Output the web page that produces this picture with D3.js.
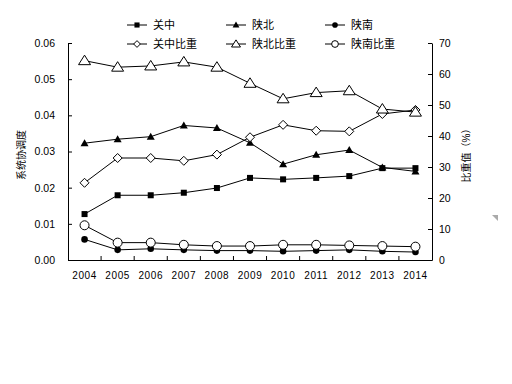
<!DOCTYPE html>
<html><head><meta charset="utf-8">
<script src="https://cdn.jsdelivr.net/npm/d3@7"></script>
<style>body{margin:0;background:#fff}svg{display:block}text{font-family:Arial,"Liberation Sans","Noto Sans CJK SC",sans-serif;fill:#000}</style>
</head><body><svg id="c" width="512" height="384"></svg>
<script>
const years = ["2004","2005","2006","2007","2008","2009","2010","2011","2012","2013","2014"];
const guanzhong = [0.0127,0.0179,0.0179,0.0186,0.0199,0.0227,0.0223,0.0227,0.0232,0.0254,0.0254];
const shanbei = [0.0323,0.0334,0.0341,0.0372,0.0365,0.0324,0.0265,0.0291,0.0304,0.0256,0.0245];
const shannan = [0.0057,0.0028,0.0031,0.0028,0.0026,0.0026,0.0024,0.0026,0.0028,0.0024,0.0022];
const guanzhongPct = [24.9,32.9,32.9,32.0,34.0,39.6,43.6,41.7,41.5,47.1,48.4];
const shanbeiPct = [64.3,62.2,62.6,63.9,62.2,57.0,52.0,54.0,54.6,48.7,47.7];
const shannanPct = [11.2,5.6,5.6,4.9,4.5,4.5,4.9,4.9,4.7,4.5,4.3];
const leftTicks = [0,0.01,0.02,0.03,0.04,0.05,0.06];
const rightTicks = [0,10,20,30,40,50,60,70];
const leftTitle = "系统协调度";
const rightTitle = "比重值（%）";

const svg = d3.select("#c");
const x0 = 68, x1 = 432, yT = 43, yB = 260;
const x = d3.scaleBand().domain(years).range([x0, x1]);
const yL = d3.scaleLinear().domain([0, 0.06]).range([yB, yT]);
const yR = d3.scaleLinear().domain([0, 70]).range([yB, yT]);
const cx = d => x(d) + x.bandwidth() / 2;

// axes
const gx = svg.append("g").attr("transform", `translate(0,${yB})`)
  .call(d3.axisBottom(x).tickSize(0).tickPadding(12));
gx.select(".domain").attr("stroke", "#000");
gx.selectAll("text").attr("font-size", 10).attr("letter-spacing", 0.6);
years.slice(1).forEach(yr => {
  svg.append("line").attr("x1", x(yr)).attr("x2", x(yr)).attr("y1", yB).attr("y2", yB - 4).attr("stroke", "#000");
});
const gl = svg.append("g").attr("transform", `translate(${x0},0)`)
  .call(d3.axisLeft(yL).tickValues(leftTicks).tickFormat(d3.format(".2f")).tickSizeInner(-4).tickSizeOuter(0).tickPadding(13));
gl.select(".domain").attr("stroke", "#000");
gl.selectAll("text").attr("font-size", 10.5);
const gr = svg.append("g").attr("transform", `translate(${x1},0)`)
  .call(d3.axisRight(yR).tickValues(rightTicks).tickSizeInner(-4).tickSizeOuter(0).tickPadding(7));
gr.select(".domain").attr("stroke", "#000");
gr.selectAll("text").attr("font-size", 10.5).attr("x", 7);
svg.selectAll(".tick line").attr("stroke", "#000");

svg.append("text").attr("transform", "translate(25,155) rotate(-90)").attr("text-anchor", "middle")
  .attr("font-size", 10).text(leftTitle);
svg.append("text").attr("transform", "translate(470,153) rotate(-90)").attr("text-anchor", "middle")
  .attr("font-size", 10).text(rightTitle);

// markers
function marker(g, type, px, py, s) {
  s = s || 1;
  if (type === "square") g.append("rect").attr("x", px - 3*s).attr("y", py - 3*s).attr("width", 6*s).attr("height", 6*s).attr("fill", "#000");
  else if (type === "tri") g.append("path").attr("d", `M${px},${py-4*s}L${px+4*s},${py+3*s}L${px-4*s},${py+3*s}Z`).attr("fill", "#000");
  else if (type === "circle") g.append("circle").attr("cx", px).attr("cy", py).attr("r", 3.3*s).attr("fill", "#000");
  else if (type === "diamond") g.append("path").attr("d", `M${px},${py-4.5*s}L${px+4.5*s},${py}L${px},${py+4.5*s}L${px-4.5*s},${py}Z`).attr("fill", "#fff").attr("stroke", "#000");
  else if (type === "otri") g.append("path").attr("d", `M${px},${py-5.5*s}L${px+6*s},${py+4*s}L${px-6*s},${py+4*s}Z`).attr("fill", "#fff").attr("stroke", "#000");
  else if (type === "ocircle") g.append("circle").attr("cx", px).attr("cy", py).attr("r", 4.5*s).attr("fill", "#fff").attr("stroke", "#000");
}

const series = [
  {name:"关中", vals:guanzhong, y:yL, m:"square"},
  {name:"陕北", vals:shanbei, y:yL, m:"tri"},
  {name:"陕南", vals:shannan, y:yL, m:"circle"},
  {name:"关中比重", vals:guanzhongPct, y:yR, m:"diamond"},
  {name:"陕北比重", vals:shanbeiPct, y:yR, m:"otri"},
  {name:"陕南比重", vals:shannanPct, y:yR, m:"ocircle"}
];
const line = (ys) => d3.line().x((d, i) => cx(years[i])).y(d => ys(d));
series.forEach(s => {
  svg.append("path").datum(s.vals).attr("d", line(s.y)).attr("fill", "none").attr("stroke", "#000").attr("stroke-width", 1);
});
series.forEach(s => {
  const g = svg.append("g");
  s.vals.forEach((v, i) => marker(g, s.m, cx(years[i]), s.y(v)));
});

// legend
const colX = [127, 226, 325];
const rowY = [25, 44];
series.forEach((s, i) => {
  const lx = colX[i % 3], ly = rowY[Math.floor(i / 3)];
  svg.append("line").attr("x1", lx).attr("x2", lx + 20).attr("y1", ly).attr("y2", ly).attr("stroke", "#000");
  const g = svg.append("g");
  marker(g, s.m, lx + 10, ly, s.m.startsWith("o") || s.m === "diamond" ? 0.75 : 0.85);
  svg.append("text").attr("x", lx + 26).attr("y", ly + 4).attr("font-size", 11).text(s.name);
});

// small grey corner mark
svg.append("path").attr("d", "M492,215L498,215L498,221Z").attr("fill", "#aaa");
</script></body></html>
